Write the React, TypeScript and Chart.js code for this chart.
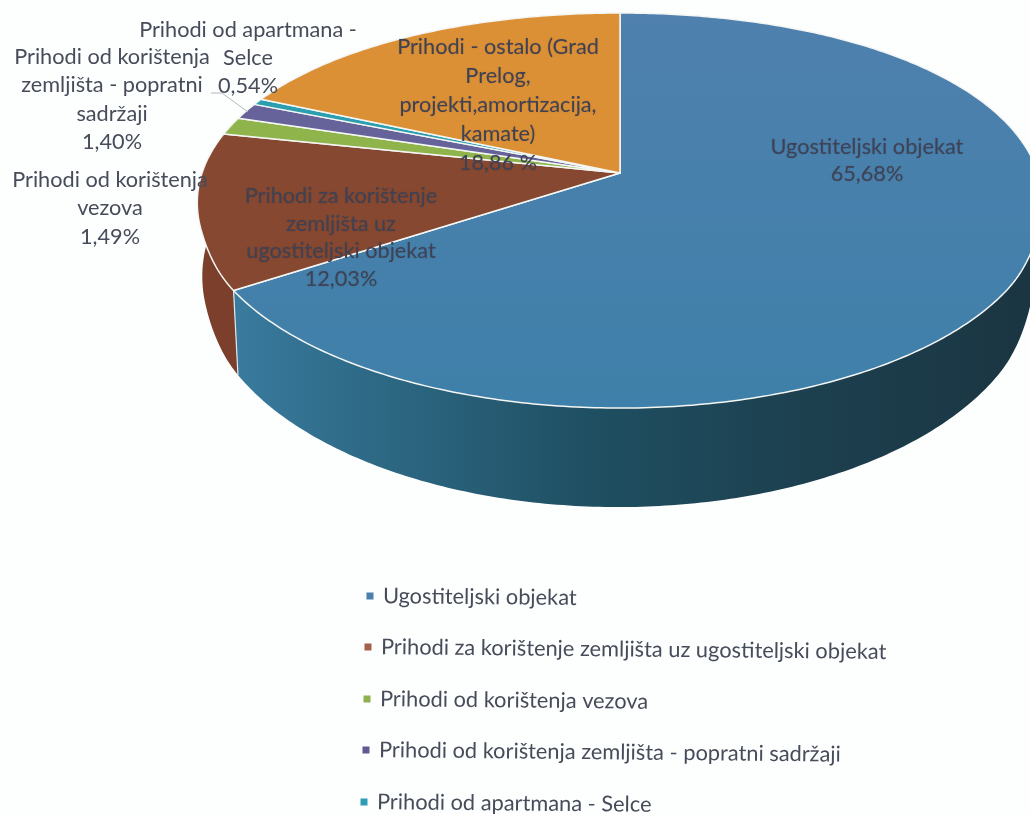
import React, { useEffect, useRef } from "react";
import { Chart, registerables } from "chart.js";

Chart.register(...registerables);

const categories = [
  "Ugostiteljski objekat",
  "Prihodi za korištenje zemljišta uz ugostiteljski objekat",
  "Prihodi od korištenja vezova",
  "Prihodi od korištenja zemljišta - popratni sadržaji",
  "Prihodi od apartmana - Selce",
  "Prihodi - ostalo (Grad Prelog, projekti,amortizacija, kamate)",
];
const shares = [65.68, 12.03, 1.49, 1.4, 0.54, 18.86];
const topColors = ["#487fab", "#864830", "#8fb44c", "#66639a", "#2b9fb0", "#dc9035"];
const legendColors = ["#4a80ad", "#a5604a", "#8fb04f", "#5f5a93", "#2f9db5"];
const labelLines = [
  ["Ugostiteljski objekat", "65,68%"],
  ["Prihodi za korištenje", "zemljišta uz", "ugostiteljski objekat", "12,03%"],
  ["Prihodi od korištenja", "vezova", "1,49%"],
  ["Prihodi od korištenja", "zemljišta - popratni", "sadržaji", "1,40%"],
  ["Prihodi od apartmana -", "Selce", "0,54%"],
  ["Prihodi - ostalo (Grad", "Prelog,", "projekti,amortizacija,", "kamate)", "18,86 %"],
];

const FONT = "Lato, 'Open Sans', sans-serif";
const INK = "#474c5a";

// Geometry of the tilted disc (perspective projection of the library's arc angles)
const disc = { cx: 620, cy: 173, rx: 415, ry: 190.4, p: 0.19 };
const rimEllipse = { cx: 620, cy: 210.5, a: 423, b: 197.5 };
const base = { cx: 618, cy: 285, a: 416, b: 222 };

const topPoint = (angle: number) => {
  const u = Math.cos(angle);
  const v = Math.sin(angle);
  const w = 1 - disc.p * v;
  // the back and the flanks of the scanned disc sit a little higher than a pure projection
  const t = Math.min(1, Math.max(0, (0.55 - v) / 0.25));
  const lift = 8 * u * u * t * t * (3 - 2 * t);
  return { x: disc.cx + (disc.rx * u) / w, y: disc.cy + (disc.ry * v) / w - lift };
};
const basePoint = (angle: number) => {
  const t = topPoint(angle);
  return {
    x: base.cx + (base.a * (t.x - rimEllipse.cx)) / rimEllipse.a,
    y: base.cy + (base.b * (t.y - rimEllipse.cy)) / rimEllipse.b,
  };
};
const sampleAngles = (start: number, end: number) => {
  const n = Math.max(2, Math.ceil((end - start) / 0.012));
  const out: number[] = [];
  for (let i = 0; i <= n; i++) out.push(start + ((end - start) * i) / n);
  return out;
};

const sideFill = (ctx: CanvasRenderingContext2D, index: number) => {
  const g = ctx.createLinearGradient(230, 0, 1030, 0);
  if (index === 0) {
    g.addColorStop(0, "#3a7b9f");
    g.addColorStop(0.15, "#2f6c89");
    g.addColorStop(0.45, "#1f4f62");
    g.addColorStop(0.7, "#1d4150");
    g.addColorStop(1, "#1b3542");
    return g;
  }
  if (index === 1) return "#7b3f2b";
  return topColors[index];
};

const topFill = (ctx: CanvasRenderingContext2D, index: number) => {
  if (index !== 0) return topColors[index];
  const g = ctx.createLinearGradient(0, 13, 0, 408);
  g.addColorStop(0, "#4f80ae");
  g.addColorStop(1, "#3e80a9");
  return g;
};

const pie3dPlugin = {
  id: "pie3d",
  beforeDatasetDraw(chart: any) {
    const ctx: CanvasRenderingContext2D = chart.ctx;
    const arcs = chart.getDatasetMeta(0).data;
    ctx.save();
    // side walls first
    [5, 4, 3, 2, 1, 0].forEach((i) => {
      const el = arcs[i];
      const angles = sampleAngles(el.startAngle, el.endAngle);
      ctx.beginPath();
      angles.forEach((a, k) => {
        const p = topPoint(a);
        if (k === 0) ctx.moveTo(p.x, p.y);
        else ctx.lineTo(p.x, p.y);
      });
      [...angles].reverse().forEach((a) => {
        const p = basePoint(a);
        ctx.lineTo(p.x, p.y);
      });
      ctx.closePath();
      ctx.fillStyle = sideFill(ctx, i);
      ctx.fill();
    });
    // the white seam where the blue wall meets the brown one
    const seamAngle = arcs[0].endAngle;
    const s0 = topPoint(seamAngle);
    const s1 = basePoint(seamAngle);
    ctx.beginPath();
    ctx.moveTo(s0.x, s0.y);
    ctx.lineTo(s1.x, s1.y);
    ctx.strokeStyle = "#dfe9ee";
    ctx.lineWidth = 1.2;
    ctx.stroke();
    // top faces
    arcs.forEach((el: any, i: number) => {
      ctx.beginPath();
      ctx.moveTo(disc.cx, disc.cy);
      sampleAngles(el.startAngle, el.endAngle).forEach((a) => {
        const p = topPoint(a);
        ctx.lineTo(p.x, p.y);
      });
      ctx.closePath();
      ctx.fillStyle = topFill(ctx, i);
      ctx.fill();
      ctx.strokeStyle = "#f4f6f4";
      ctx.lineWidth = 1.5;
      ctx.lineJoin = "round";
      ctx.stroke();
    });
    ctx.restore();
    return false;
  },
  afterDatasetsDraw(chart: any) {
    const ctx: CanvasRenderingContext2D = chart.ctx;
    ctx.save();
    // leader line of the small slice
    ctx.beginPath();
    ctx.moveTo(211, 93);
    ctx.lineTo(222, 93);
    ctx.lineTo(248, 112);
    ctx.strokeStyle = "#b4b8bd";
    ctx.lineWidth = 1;
    ctx.stroke();

    // data labels
    const anchors = [
      { x: 867, y: 147, gap: 27 },
      { x: 341, y: 196, gap: 27.7 },
      { x: 110, y: 180, gap: 28.5 },
      { x: 112, y: 57, gap: 28.4 },
      { x: 248, y: 30, gap: 28 },
      { x: 498, y: 47, gap: 29 },
    ];
    ctx.textAlign = "center";
    ctx.textBaseline = "middle";
    ctx.font = `21.7px ${FONT}`;
    labelLines.forEach((lines, i) => {
      const onPie = i === 0 || i === 1 || i === 5;
      ctx.fillStyle = onPie ? "#3f4255" : INK;
      ctx.shadowColor = onPie ? "rgba(20,20,30,0.2)" : "transparent";
      ctx.shadowBlur = onPie ? 1.5 : 0;
      lines.forEach((line, k) => {
        ctx.fillText(line, anchors[i].x, anchors[i].y + k * anchors[i].gap);
      });
    });
    ctx.shadowColor = "transparent";
    ctx.shadowBlur = 0;

    // legend rows (the scan is slightly tilted)
    const rows = [
      { x: 370, y: 596 },
      { x: 368, y: 647 },
      { x: 367, y: 699 },
      { x: 366, y: 750 },
      { x: 364, y: 802 },
    ];
    ctx.textAlign = "left";
    ctx.font = `21.8px ${FONT}`;
    rows.forEach((row, i) => {
      ctx.save();
      ctx.translate(row.x, row.y);
      ctx.rotate((0.55 * Math.PI) / 180);
      ctx.fillStyle = legendColors[i];
      ctx.fillRect(-3.5, -3.5, 7, 7);
      ctx.fillStyle = INK;
      ctx.fillText(categories[i], 13, 0);
      ctx.restore();
    });
    ctx.restore();
  },
};

export default function App() {
  const ref = useRef<HTMLCanvasElement>(null);
  useEffect(() => {
    document.body.style.margin = "0";
    document.body.style.background = "#fdfefe";
    const chart = new Chart(ref.current!, {
      type: "pie",
      data: {
        labels: categories,
        datasets: [{ data: shares, backgroundColor: topColors, borderWidth: 0 }],
      },
      options: {
        responsive: false,
        animation: false,
        rotation: 0,
        plugins: { legend: { display: false }, tooltip: { enabled: false } },
      },
      plugins: [pie3dPlugin],
    });
    return () => chart.destroy();
  }, []);
  return (
    <div style={{ position: "absolute", left: 0, top: 0, width: 1030, height: 814, overflow: "hidden" }}>
      <canvas ref={ref} width={1030} height={814} style={{ display: "block", filter: "blur(0.5px)" }} />
    </div>
  );
}
